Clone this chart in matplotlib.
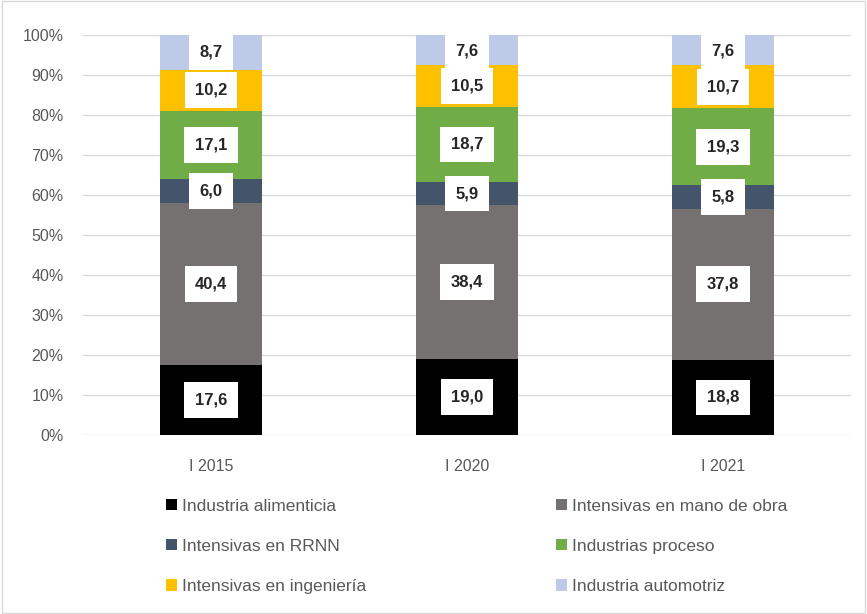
import numpy as np
import matplotlib.pyplot as plt
from matplotlib.patches import Rectangle

plt.rcParams['font.family'] = ['Liberation Sans', 'DejaVu Sans']

periods = ["I 2015", "I 2020", "I 2021"]
sectors = ["Industria alimenticia", "Intensivas en mano de obra", "Intensivas en RRNN",
           "Industrias proceso", "Intensivas en ingeniería", "Industria automotriz"]
colors = ["#000000", "#767171", "#44546A", "#70AD47", "#FFC000", "#BDCAE8"]

alimenticia = [17.6, 19.0, 18.8]
mano_obra = [40.4, 38.4, 37.8]
rrnn = [6.0, 5.9, 5.8]
proceso = [17.1, 18.7, 19.3]
ingenieria = [10.2, 10.5, 10.7]
automotriz = [8.7, 7.6, 7.6]

series = [alimenticia, mano_obra, rrnn, proceso, ingenieria, automotriz]

fig = plt.figure(figsize=(8.67, 6.14), dpi=100)
ax = fig.add_axes([83 / 867, 1 - 435 / 614, 768 / 867, 400 / 614])

x = np.arange(len(periods))
bottom = np.zeros(len(periods))
handles = []
for name, vals, col in zip(sectors, series, colors):
    vals = np.array(vals)
    b = ax.bar(x, vals, width=0.4, bottom=bottom, color=col, label=name, zorder=2)
    handles.append(b)
    for xi, v, b0 in zip(x, vals, bottom):
        yc = min(b0 + v / 2, 96)
        ax.text(xi, yc, f"{v:.1f}".replace(".", ","), ha="center", va="center",
                fontsize=12, fontweight="bold", color="#262626", zorder=3,
                bbox=dict(boxstyle="square,pad=0.62", fc="white", ec="none"))
    bottom += vals

ax.set_xlim(-0.5, 2.5)
ax.set_ylim(0, 100)
ax.set_yticks(np.arange(0, 101, 10))
ax.set_yticklabels([f"{t}%" for t in range(0, 101, 10)])
ax.set_xticks(x)
ax.set_xticklabels(periods)
ax.tick_params(length=0, colors="#595959", labelsize=11.5)
ax.tick_params(axis="y", pad=14)
ax.tick_params(axis="x", pad=17)
ax.yaxis.grid(True, color="#D9D9D9", lw=1, zorder=0)
for s in ax.spines.values():
    s.set_visible(False)

order = [0, 2, 4, 1, 3, 5]
leg = fig.legend([handles[i] for i in order], [sectors[i] for i in order],
                 ncol=2, loc="upper left", bbox_to_anchor=(150 / 867, 1 - 483 / 614),
                 frameon=False, fontsize=12.5, handlelength=0.65, handleheight=0.65,
                 handletextpad=0.3, columnspacing=10.9, labelspacing=1.45)
for t in leg.get_texts():
    t.set_color("#595959")

fig.patches.append(Rectangle((0.002, 0.002), 0.996, 0.996, transform=fig.transFigure,
                             fill=False, ec="#D9D9D9", lw=1))

fig.savefig("out.png", dpi=100)
